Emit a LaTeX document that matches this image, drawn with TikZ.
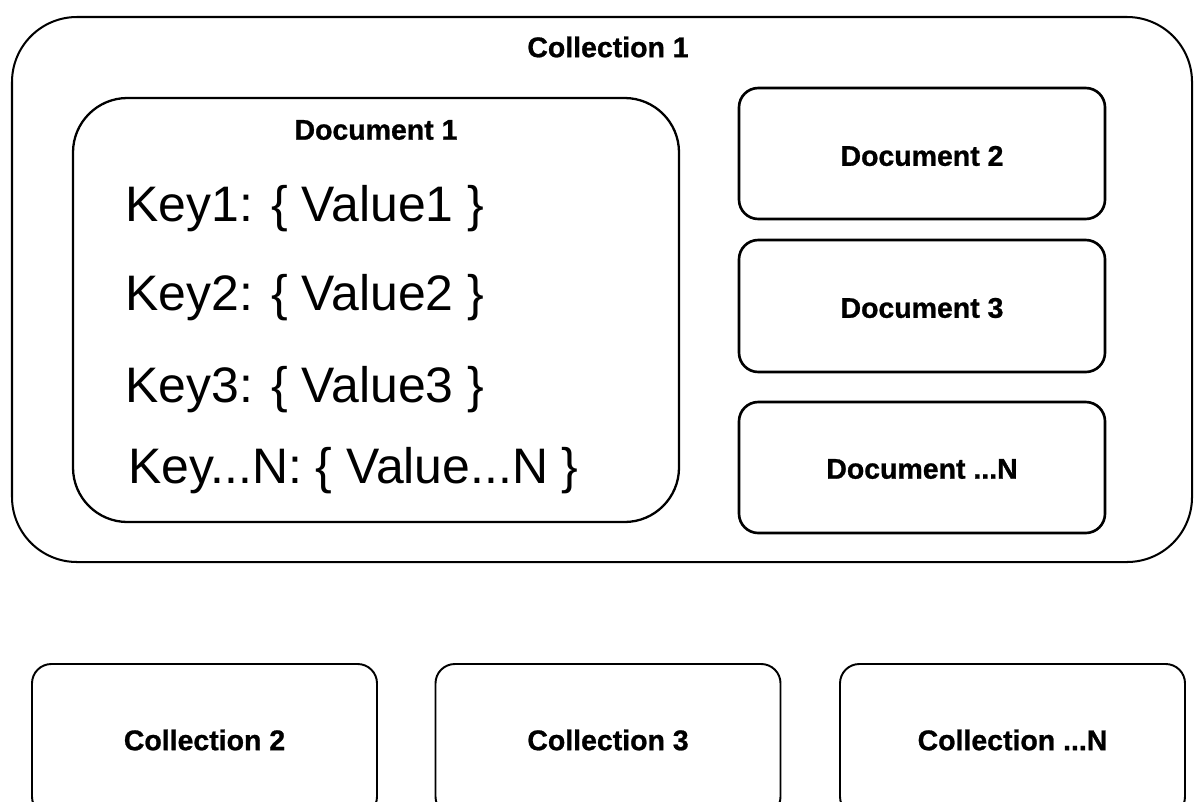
\documentclass[tikz,border=0pt]{standalone}
\usepackage{fontspec}
\setmainfont{Liberation Sans}[BoldFeatures={FakeBold=0.9}]
\begin{document}
\begin{tikzpicture}[x=0.02cm,y=-0.02cm,
  outerbox/.style={draw=black,line width=1.15pt,rounded corners=37pt,inner sep=0pt},
  mainbox/.style={draw=black,line width=1.3pt,rounded corners=31pt,inner sep=0pt},
  docbox/.style={draw=black,line width=1.5pt,rounded corners=11pt,inner sep=0pt,
    minimum width=366*0.02cm},
  collbox/.style={draw=black,line width=1.1pt,rounded corners=11pt,inner sep=0pt,
    minimum width=345*0.02cm,minimum height=152*0.02cm},
  title/.style={font=\fontsize{16.2}{19}\selectfont\bfseries,inner sep=0pt},
  entry/.style={font=\fontsize{28.4}{34}\selectfont,inner sep=0pt,anchor=base west}]
\useasboundingbox (0,0) rectangle (1195,801);
\clip (0,0) rectangle (1195,801);

% Collection 1 and its documents
\node[outerbox,minimum width=1180*0.02cm,minimum height=545*0.02cm] (c1) at (602,289.5) {};
\node[title] (c1t) at (608,47) {Collection 1};

\node[mainbox,minimum width=606*0.02cm,minimum height=424*0.02cm] (d1) at (376,310) {};
\node[title] (d1t) at (376,130) {Document 1};
\node[entry] (k1) at (125,221) {Key1: \{ Value1 \}};
\node[entry] (k2) at (125,310) {Key2: \{ Value2 \}};
\node[entry] (k3) at (125,402) {Key3: \{ Value3 \}};
\node[entry] (kn) at (128,483) {Key...N: \{ Value...N \}};

\node[docbox,minimum height=131*0.02cm] (d2) at (922,153.5) {};
\node[title] (d2t) at (922,156) {Document 2};
\node[docbox,minimum height=132*0.02cm] (d3) at (922,306) {};
\node[title] (d3t) at (922,308) {Document 3};
\node[docbox,minimum height=131*0.02cm] (dn) at (922,467.5) {};
\node[title] (dnt) at (922,469) {Document ...N};

% Further collections
\node[collbox] (c2) at (204.5,740) {};
\node[title] (c2t) at (204.5,740) {Collection 2};
\node[collbox] (c3) at (608,740) {};
\node[title] (c3t) at (608,740) {Collection 3};
\node[collbox] (cn) at (1012.5,740) {};
\node[title] (cnt) at (1012.5,740) {Collection ...N};
\end{tikzpicture}
\end{document}
